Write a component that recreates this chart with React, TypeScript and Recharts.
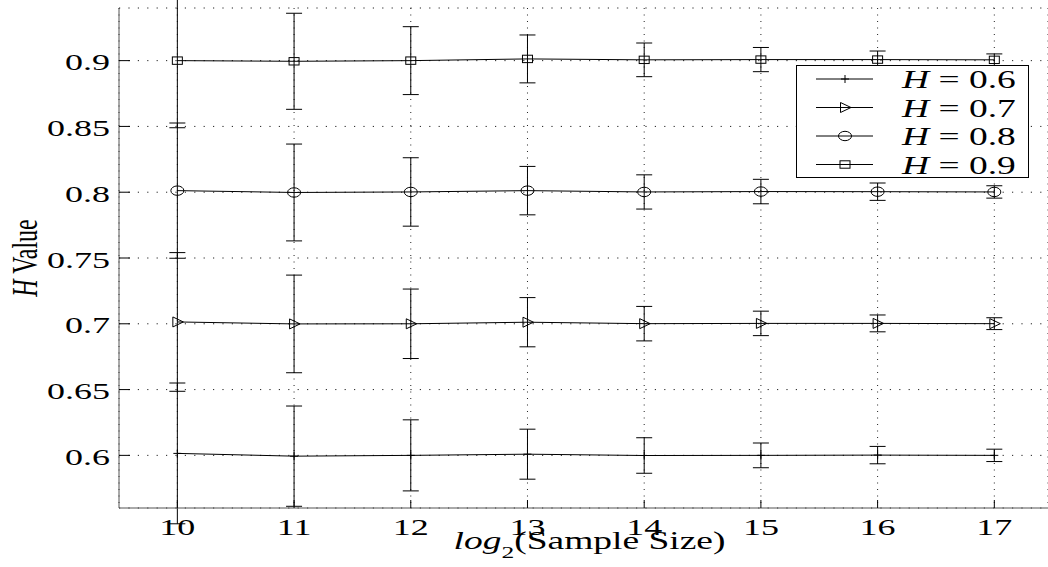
import React from 'react';
import { LineChart, Line, XAxis, YAxis, CartesianGrid, ErrorBar, Legend } from 'recharts';

const sizes = [10, 11, 12, 13, 14, 15, 16, 17];

const h06 = [0.6015, 0.5994, 0.6, 0.6009, 0.5999, 0.6, 0.6002, 0.6];
const h06Err = [0.0535, 0.0381, 0.027, 0.019, 0.0135, 0.0094, 0.0066, 0.0047];

const h07 = [0.7014, 0.6999, 0.7, 0.7012, 0.7001, 0.7003, 0.7003, 0.7001];
const h07Err = [0.0527, 0.0371, 0.0264, 0.0187, 0.0131, 0.0093, 0.0064, 0.0045];

const h08 = [0.8012, 0.7998, 0.8002, 0.8012, 0.8002, 0.8005, 0.8004, 0.8002];
const h08Err = [0.0514, 0.0368, 0.026, 0.0184, 0.013, 0.0093, 0.0066, 0.0047];

const h09 = [0.9, 0.8995, 0.9, 0.9013, 0.9006, 0.9008, 0.9008, 0.9006];
const h09Err = [0.051, 0.0365, 0.0258, 0.0182, 0.0128, 0.0092, 0.0065, 0.0045];

const xTicks = [10, 11, 12, 13, 14, 15, 16, 17];
const yTicks = [0.6, 0.65, 0.7, 0.75, 0.8, 0.85, 0.9];

const series = [
  { key: 'h06', label: '0.6', shape: 'plus' },
  { key: 'h07', label: '0.7', shape: 'tri' },
  { key: 'h08', label: '0.8', shape: 'circle' },
  { key: 'h09', label: '0.9', shape: 'square' },
];

const rows = sizes.map((s, i) => ({
  size: s,
  h06: h06[i], h06e: h06Err[i],
  h07: h07[i], h07e: h07Err[i],
  h08: h08[i], h08e: h08Err[i],
  h09: h09[i], h09e: h09Err[i],
}));

const FONT = '"Liberation Serif", "Times New Roman", serif';

function Marker({ shape, cx, cy }: { shape: string; cx: number; cy: number }) {
  if (cx == null || cy == null) return null;
  switch (shape) {
    case 'plus':
      return (
        <g stroke="#000" strokeWidth={1}>
          <line x1={cx - 4} y1={cy} x2={cx + 4} y2={cy} />
          <line x1={cx} y1={cy - 4} x2={cx} y2={cy + 4} />
        </g>
      );
    case 'tri':
      return (
        <polygon
          points={`${cx - 4.5},${cy - 5} ${cx + 6},${cy} ${cx - 4.5},${cy + 5}`}
          fill="none" stroke="#000" strokeWidth={1}
        />
      );
    case 'circle':
      return <ellipse cx={cx} cy={cy} rx={6.5} ry={4.7} fill="none" stroke="#000" strokeWidth={1} />;
    default:
      return <rect x={cx - 5} y={cy - 3.7} width={10} height={7.4} fill="none" stroke="#000" strokeWidth={1} />;
  }
}

const XTick = ({ x, y, payload }: any) => (
  <g>
    <line x1={x} y1={y} x2={x} y2={y - 8} stroke="#000" strokeWidth={1} />
    <text transform={`translate(${x},${y + 27}) scale(1.5,1)`} textAnchor="middle"
      fontFamily={FONT} fontSize={24} fill="#000">
      {payload.value}
    </text>
  </g>
);

const YTick = ({ x, y, payload }: any) => (
  <g>
    <line x1={x} y1={y} x2={x + 11} y2={y} stroke="#000" strokeWidth={1} />
    <text transform={`translate(${x - 9},${y + 9.5}) scale(1.5,1)`} textAnchor="end"
      fontFamily={FONT} fontSize={24} fill="#000">
      {String(payload.value)}
    </text>
  </g>
);

const LegendBox = () => (
  <div style={{ width: 233, height: 113, boxSizing: 'border-box', border: '1px solid #000', background: '#fff' }}>
    <svg width={231} height={111} style={{ overflow: 'visible', display: 'block' }}>
      {series.map((s, i) => {
        const cy = 13 + i * 28.5;
        return (
          <g key={s.key}>
            <line x1={19} y1={cy} x2={76} y2={cy} stroke="#000" strokeWidth={1} />
            <Marker shape={s.shape} cx={48} cy={cy} />
            <text transform={`translate(105,${cy + 9}) scale(1.5,1)`} fontFamily={FONT} fontSize={25} fill="#000">
              <tspan fontStyle="italic">H</tspan> = {s.label}
            </text>
          </g>
        );
      })}
    </svg>
  </div>
);

export default function App() {
  return (
    <div style={{ position: 'absolute', left: 0, top: 0, width: 1048, height: 567, background: '#fff' }}>
      <LineChart width={1048} height={567} data={rows} margin={{ top: 8, right: 0, bottom: 0, left: 0 }}>
        <CartesianGrid horizontal={true} vertical={false} stroke="#222" strokeDasharray="1.2 8.2" />
        <CartesianGrid horizontal={false} vertical={true} stroke="#222" strokeDasharray="1 5.5" />
        <XAxis
          dataKey="size" type="number" domain={[9.5, 17.46]} ticks={xTicks} interval={0}
          allowDataOverflow height={59} tickSize={0} tickMargin={0} tick={<XTick />}
          axisLine={{ stroke: '#555', strokeWidth: 1 }} tickLine={false}
          label={{
            content: ({ viewBox }: any) => (
              <text transform={`translate(${viewBox.x + viewBox.width / 2 + 6},549) scale(1.5,1)`}
                textAnchor="middle" fontFamily={FONT} fontSize={25} fill="#000">
                <tspan fontStyle="italic">log</tspan>
                <tspan fontSize={17} dy={9}>2</tspan>
                <tspan dy={-9}>(Sample Size)</tspan>
              </text>
            ),
          }}
        />
        <YAxis
          type="number" domain={[0.56, 0.94]} ticks={yTicks} interval={0} allowDataOverflow
          width={119} tickSize={0} tickMargin={0} tick={<YTick />}
          axisLine={{ stroke: '#555', strokeWidth: 1 }} tickLine={false}
          label={{
            content: ({ viewBox }: any) => (
              <text transform={`translate(37,${viewBox.y + viewBox.height / 2}) scale(1.5,1) rotate(-90)`}
                textAnchor="middle" fontFamily={FONT} fontSize={24} fill="#000">
                <tspan fontStyle="italic">H</tspan> Value
              </text>
            ),
          }}
        />
        <Legend
          content={<LegendBox />}
          layout="horizontal" verticalAlign="middle" align="center"
          wrapperStyle={{ left: 796, top: 65, width: 233, height: 113 }}
        />
        {series.map((s) => (
          <Line
            key={s.key}
            dataKey={s.key}
            type="linear"
            stroke="#000"
            strokeWidth={1}
            isAnimationActive={false}
            activeDot={false}
            legendType="none"
            dot={(p: any) => <Marker key={`${s.key}-${p.index}`} shape={s.shape} cx={p.cx} cy={p.cy} />}
          >
            <ErrorBar dataKey={`${s.key}e`} direction="y" width={8} stroke="#000" strokeWidth={1} isAnimationActive={false} />
          </Line>
        ))}
      </LineChart>
    </div>
  );
}
